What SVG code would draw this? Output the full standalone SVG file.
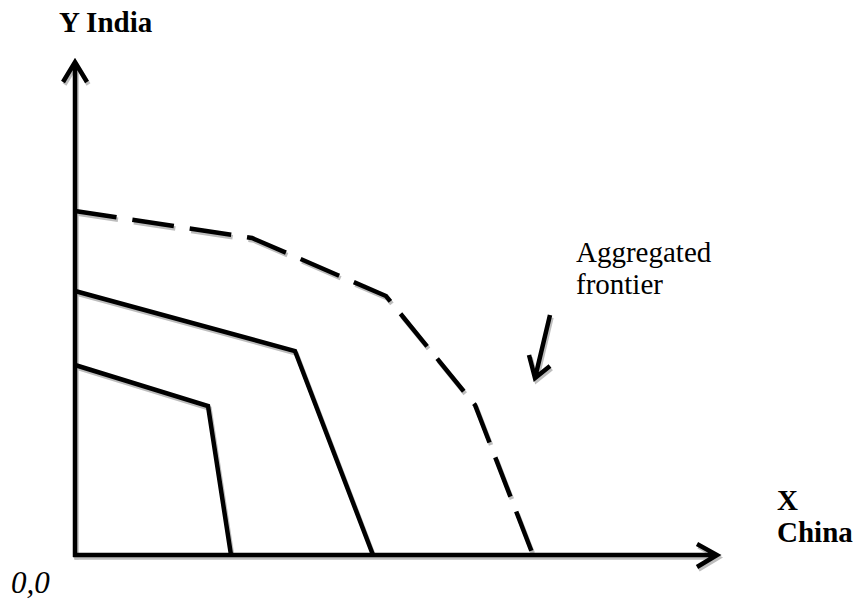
<svg xmlns="http://www.w3.org/2000/svg" xmlns:xlink="http://www.w3.org/1999/xlink" width="856" height="602" viewBox="0 0 856 602">
<style>
.ln{fill:none;stroke:#000;stroke-width:4.5;stroke-linejoin:miter}
.sh{fill:none;stroke:#bdbdbd;stroke-width:4.5}
.dash{stroke-dasharray:42 16}
text{font-family:'Liberation Serif','Times New Roman',serif;fill:#000}
.tb{font-weight:bold;font-size:29px}
.tr{font-weight:normal;font-size:29px}
.ti{font-style:italic;font-size:31px}
</style>
<defs>
<path id="yaxis" d="M75,557 V62 M63,82 L75,62 L87,82"/>
<path id="xaxis" d="M73,555 H717 M697,544 L717,555 L697,567"/>
<path id="agg" d="M75,211 L252,238 L386,296 L475,405 L533,555"/>
<path id="mid" d="M75,291 L295,351 L373,555"/>
<path id="inner" d="M75,365 L208,406 L231,555"/>
<path id="ptr" d="M550,315 L535,378 M529,355 L535,378 L550,366"/>
</defs>
<g id="shadows" transform="translate(1.5,2.5)">
<use xlink:href="#yaxis" class="sh"/>
<use xlink:href="#xaxis" class="sh"/>
<use xlink:href="#agg" class="sh dash"/>
<use xlink:href="#mid" class="sh"/>
<use xlink:href="#inner" class="sh"/>
<use xlink:href="#ptr" class="sh"/>
</g>
<g id="connectors">
<use id="y-axis" xlink:href="#yaxis" class="ln"/>
<use id="x-axis" xlink:href="#xaxis" class="ln"/>
<use id="pointer" xlink:href="#ptr" class="ln"/>
</g>
<g id="aggregated-frontier"><use xlink:href="#agg" class="ln dash"/></g>
<g id="middle-frontier"><use xlink:href="#mid" class="ln"/></g>
<g id="inner-frontier"><use xlink:href="#inner" class="ln"/></g>
<g id="label-y"><text class="tb" x="59" y="32">Y India</text></g>
<g id="label-x"><text class="tb" x="777" y="510">X</text><text class="tb" x="777" y="542">China</text></g>
<g id="label-origin"><text class="ti" x="11" y="593">0,0</text></g>
<g id="label-agg"><text class="tr" x="576" y="262">Aggregated</text><text class="tr" x="576" y="294">frontier</text></g>
</svg>
